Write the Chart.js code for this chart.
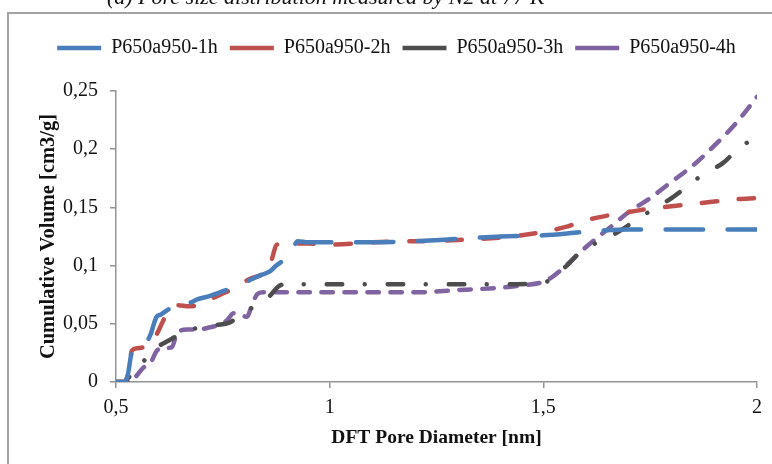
<!DOCTYPE html>
<html>
<head>
<meta charset="utf-8">
<script src="https://cdn.jsdelivr.net/npm/chart.js@4/dist/chart.umd.min.js"></script>
<style>
  body { margin: 0; background: #fff; }
  canvas { display: block; }
</style>
</head>
<body>
<canvas id="grafico" width="772" height="464"></canvas>
<script>
// Diâmetro (nm) e volume acumulado (cm3/g)
const diam1h = [0.50, 0.52, 0.527, 0.537, 0.55, 0.565, 0.58, 0.595, 0.605, 0.625, 0.645, 0.67, 0.69, 0.72, 0.75, 0.78, 0.81, 0.84, 0.86, 0.875, 0.89, 0.905, 0.915, 0.925, 0.95, 1.0, 1.1, 1.2, 1.3, 1.4, 1.5, 1.6, 1.7, 1.8, 2.0];
const vol1h  = [0, 0, 0.005, 0.025, 0.028, 0.031, 0.04, 0.056, 0.058, 0.063, 0.068, 0.068, 0.071, 0.074, 0.078, 0.082, 0.087, 0.092, 0.095, 0.1, 0.104, 0.107, 0.115, 0.121, 0.12, 0.12, 0.12, 0.121, 0.123, 0.125, 0.126, 0.129, 0.131, 0.131, 0.131];

const diam2h = [0.50, 0.52, 0.53, 0.537, 0.55, 0.565, 0.58, 0.598, 0.607, 0.615, 0.63, 0.645, 0.67, 0.69, 0.72, 0.75, 0.78, 0.81, 0.84, 0.858, 0.866, 0.876, 0.9, 0.95, 1.0, 1.1, 1.2, 1.3, 1.4, 1.45, 1.5, 1.55, 1.6, 1.65, 1.7, 1.75, 1.8, 1.85, 1.9, 1.95, 2.0];
const vol2h  = [0, 0, 0.01, 0.027, 0.029, 0.03, 0.032, 0.043, 0.05, 0.056, 0.063, 0.066, 0.065, 0.066, 0.071, 0.076, 0.081, 0.088, 0.092, 0.096, 0.107, 0.118, 0.119, 0.119, 0.118, 0.12, 0.121, 0.122, 0.124, 0.126, 0.129, 0.133, 0.139, 0.143, 0.146, 0.149, 0.151, 0.153, 0.155, 0.157, 0.158];

const diam3h = [0.50, 0.52, 0.53, 0.545, 0.563, 0.585, 0.6, 0.615, 0.63, 0.666, 0.70, 0.735, 0.765, 0.80, 0.82, 0.84, 0.855, 0.865, 0.88, 0.895, 0.93, 1.0, 1.1, 1.2, 1.3, 1.4, 1.5, 1.53, 1.555, 1.59, 1.64, 1.68, 1.72, 1.76, 1.80, 1.84, 1.88, 1.92, 1.955, 2.0];
const vol3h  = [0, 0, 0.004, 0.01, 0.017, 0.027, 0.031, 0.034, 0.037, 0.044, 0.047, 0.049, 0.051, 0.06, 0.064, 0.068, 0.072, 0.076, 0.082, 0.084, 0.084, 0.084, 0.084, 0.084, 0.084, 0.084, 0.085, 0.093, 0.1, 0.113, 0.122, 0.13, 0.14, 0.149, 0.158, 0.169, 0.18, 0.188, 0.2, 0.211];

const diam4h = [0.50, 0.533, 0.545, 0.563, 0.58, 0.596, 0.61, 0.631, 0.643, 0.666, 0.69, 0.72, 0.74, 0.76, 0.775, 0.79, 0.806, 0.82, 0.832, 0.845, 0.9, 1.0, 1.1, 1.2, 1.3, 1.4, 1.45, 1.5, 1.52, 1.55, 1.6, 1.65, 1.7, 1.75, 1.8, 1.85, 1.9, 1.95, 2.0];
const vol4h  = [0, 0, 0.004, 0.012, 0.016, 0.027, 0.029, 0.03, 0.042, 0.045, 0.045, 0.047, 0.049, 0.053, 0.059, 0.058, 0.056, 0.068, 0.076, 0.077, 0.077, 0.077, 0.077, 0.077, 0.079, 0.081, 0.083, 0.086, 0.09, 0.099, 0.116, 0.131, 0.146, 0.158, 0.172, 0.186, 0.203, 0.222, 0.245];

const xTicks = [0.5, 1, 1.5, 2];
const xTickLabels = ['0,5', '1', '1,5', '2'];
const yTicks = [0, 0.05, 0.1, 0.15, 0.2, 0.25];
const yTickLabels = ['0', '0,05', '0,1', '0,15', '0,2', '0,25'];

const fonte = "'Liberation Serif', 'Times New Roman', serif";
const corEixo = '#939393';

const pontos = (xs, ys) => xs.map((x, i) => ({ x: x, y: ys[i] }));

const serie = (label, xs, ys, cor, dash) => ({
    label: label,
    data: pontos(xs, ys),
    borderColor: cor,
    backgroundColor: cor,
    borderWidth: 4.5,
    borderDash: dash,
    borderCapStyle: 'round',
    borderJoinStyle: 'round',
    pointRadius: 0,
    pointStyle: 'line',
    cubicInterpolationMode: 'monotone',
    fill: false
});

// moldura externa e título cortado no topo
const moldura = {
    id: 'moldura',
    beforeLayout(chart) {
        const lg = chart.legend;
        if (lg && !lg._ajustada) {
            const fit = lg.fit;
            lg.fit = function () { fit.call(this); this.height = 65; };
            lg._ajustada = true;
        }
    },
    beforeDraw(chart) {
        const c = chart.ctx;
        c.save();
        c.fillStyle = '#fff';
        c.fillRect(0, 0, chart.width, chart.height);
        c.strokeStyle = '#a3a3a3';
        c.lineWidth = 2;
        c.strokeRect(8, 13, 800, 500);
        c.fillStyle = '#111';
        c.font = "italic 22px " + fonte;
        c.textBaseline = 'alphabetic';
        c.fillText('(a) Pore size distribution measured by N2 at 77 K', 107, 4);
        c.restore();
    }
};

new Chart(document.getElementById('grafico').getContext('2d'), {
    type: 'line',
    data: {
        datasets: [
            serie('P650a950-1h', diam1h, vol1h, '#4a7ebb', [37.5, 24.5]),
            serie('P650a950-2h', diam2h, vol2h, '#c0504d', [15.5, 21.5]),
            serie('P650a950-3h', diam3h, vol3h, '#4d4d4d', [15.5, 22.5, 0.01, 23]),
            serie('P650a950-4h', diam4h, vol4h, '#8064a2', [11.5, 11.5])
        ]
    },
    options: {
        responsive: false,
        animation: false,
        layout: { padding: { left: 36, right: 15, top: 26, bottom: 0 } },
        plugins: {
            legend: {
                position: 'top',
                labels: {
                    usePointStyle: true,
                    pointStyleWidth: 44,
                    padding: 12,
                    color: '#111',
                    font: { family: fonte, size: 20 }
                }
            },
            tooltip: { enabled: false }
        },
        scales: {
            x: {
                type: 'linear',
                min: 0.5,
                max: 2,
                afterBuildTicks: s => { s.ticks = xTicks.map(v => ({ value: v })); },
                afterFit: s => { s.height = 82; },
                ticks: {
                    autoSkip: false,
                    maxRotation: 0,
                    padding: 8,
                    color: '#111',
                    font: { family: fonte, size: 20 },
                    callback: (v, i) => xTickLabels[i]
                },
                grid: { drawOnChartArea: false, tickLength: 6, color: corEixo, lineWidth: 1.5 },
                border: { color: corEixo, width: 1.5 },
                title: {
                    display: true,
                    text: 'DFT Pore Diameter [nm]',
                    color: '#111',
                    padding: { top: 0, bottom: 14 },
                    font: { family: fonte, size: 19.5, weight: 'bold' }
                }
            },
            y: {
                min: 0,
                max: 0.25,
                afterBuildTicks: s => { s.ticks = yTicks.map(v => ({ value: v })); },
                afterFit: s => { s.width = 80; },
                ticks: {
                    autoSkip: false,
                    padding: 12,
                    color: '#111',
                    font: { family: fonte, size: 20 },
                    callback: (v, i) => yTickLabels[i]
                },
                grid: { drawOnChartArea: false, tickLength: 6, color: corEixo, lineWidth: 1.5 },
                border: { color: corEixo, width: 1.5 },
                title: {
                    display: true,
                    text: 'Cumulative Volume [cm3/g]',
                    color: '#111',
                    padding: { top: 0, bottom: 0 },
                    font: { family: fonte, size: 20.5, weight: 'bold' }
                }
            }
        }
    },
    plugins: [moldura]
});
</script>
</body>
</html>
